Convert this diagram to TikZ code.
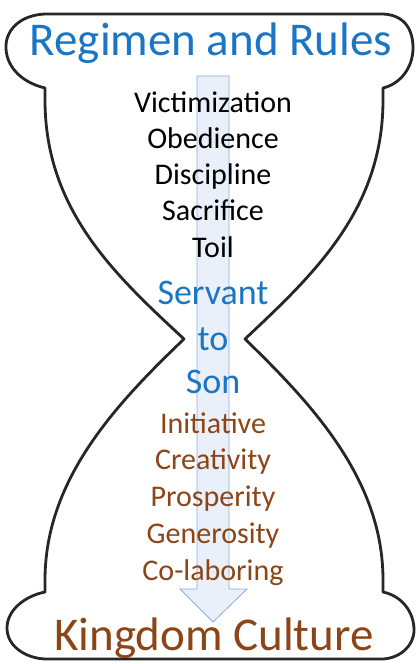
\documentclass[tikz,border=0pt]{standalone}
\usepackage{fontspec}
\setmainfont{Carlito}
\usetikzlibrary{positioning}
\definecolor{rulesblue}{HTML}{1A75C4}
\definecolor{kingbrown}{HTML}{8C4516}
\definecolor{arrowfill}{HTML}{EAF0F9}
\definecolor{arrowline}{HTML}{8FAADC}

\begin{document}
\begin{tikzpicture}[x=1pt,y=-1pt]
\tikzstyle{every node}+=[inner sep=0pt,anchor=base]
\tikzstyle{headline}=[font=\fontsize{47}{47}\selectfont]
\tikzstyle{middle}=[font=\fontsize{36}{36}\selectfont,text=rulesblue]
\tikzstyle{listword}=[font=\fontsize{30}{30}\selectfont]
\useasboundingbox (0,0) rectangle (418,664);
% hourglass outline
\draw [black!85,line width=2.8pt,line join=round]
  (45,88) .. controls (20,82) and (5,65) .. (6,45)
  .. controls (7,28) and (22,15) .. (45,14) -- (383,14)
  .. controls (405,15) and (413,30) .. (413,48)
  .. controls (413,68) and (400,84) .. (383,88) -- (383,100)
  .. controls (383,210) and (313,275) .. (245,339)
  .. controls (313,405) and (383,480) .. (383,580) -- (383,592)
  .. controls (402,596) and (414,612) .. (414,630)
  .. controls (414,646) and (400,658) .. (383,659) -- (45,659)
  .. controls (25,658) and (7,646) .. (7,628)
  .. controls (7,610) and (25,596) .. (45,592) -- (45,580)
  .. controls (45,480) and (115,405) .. (184,339)
  .. controls (115,275) and (45,210) .. (45,100) -- cycle;
% block arrow
\draw [arrowline,fill=arrowfill,line width=0.8pt]
  (197,76) -- (229,76) -- (229,589) -- (247,589) -- (213,622)
  -- (180,589) -- (197,589) -- cycle;
% labels
\node [headline,text=rulesblue] (rules) at (211,55) {Regimen and Rules};
\foreach \word [count=\i] in {Victimization,Obedience,Discipline,Sacrifice,Toil}
  \node [listword] (old\i) at (213,{112+36.25*(\i-1)}) {\word};
\node [middle] (servant) at (213,304) {Servant};
\node [middle] (to) at (213,350) {to};
\node [middle] (son) at (213,393) {Son};
\foreach \word [count=\i] in {Initiative,Creativity,Prosperity,Generosity,Co-laboring}
  \node [listword,text=kingbrown] (new\i) at (213,{433+36.75*(\i-1)}) {\word};
\node [headline,text=kingbrown] (kingdom) at (214,650) {Kingdom Culture};
\end{tikzpicture}
\end{document}
